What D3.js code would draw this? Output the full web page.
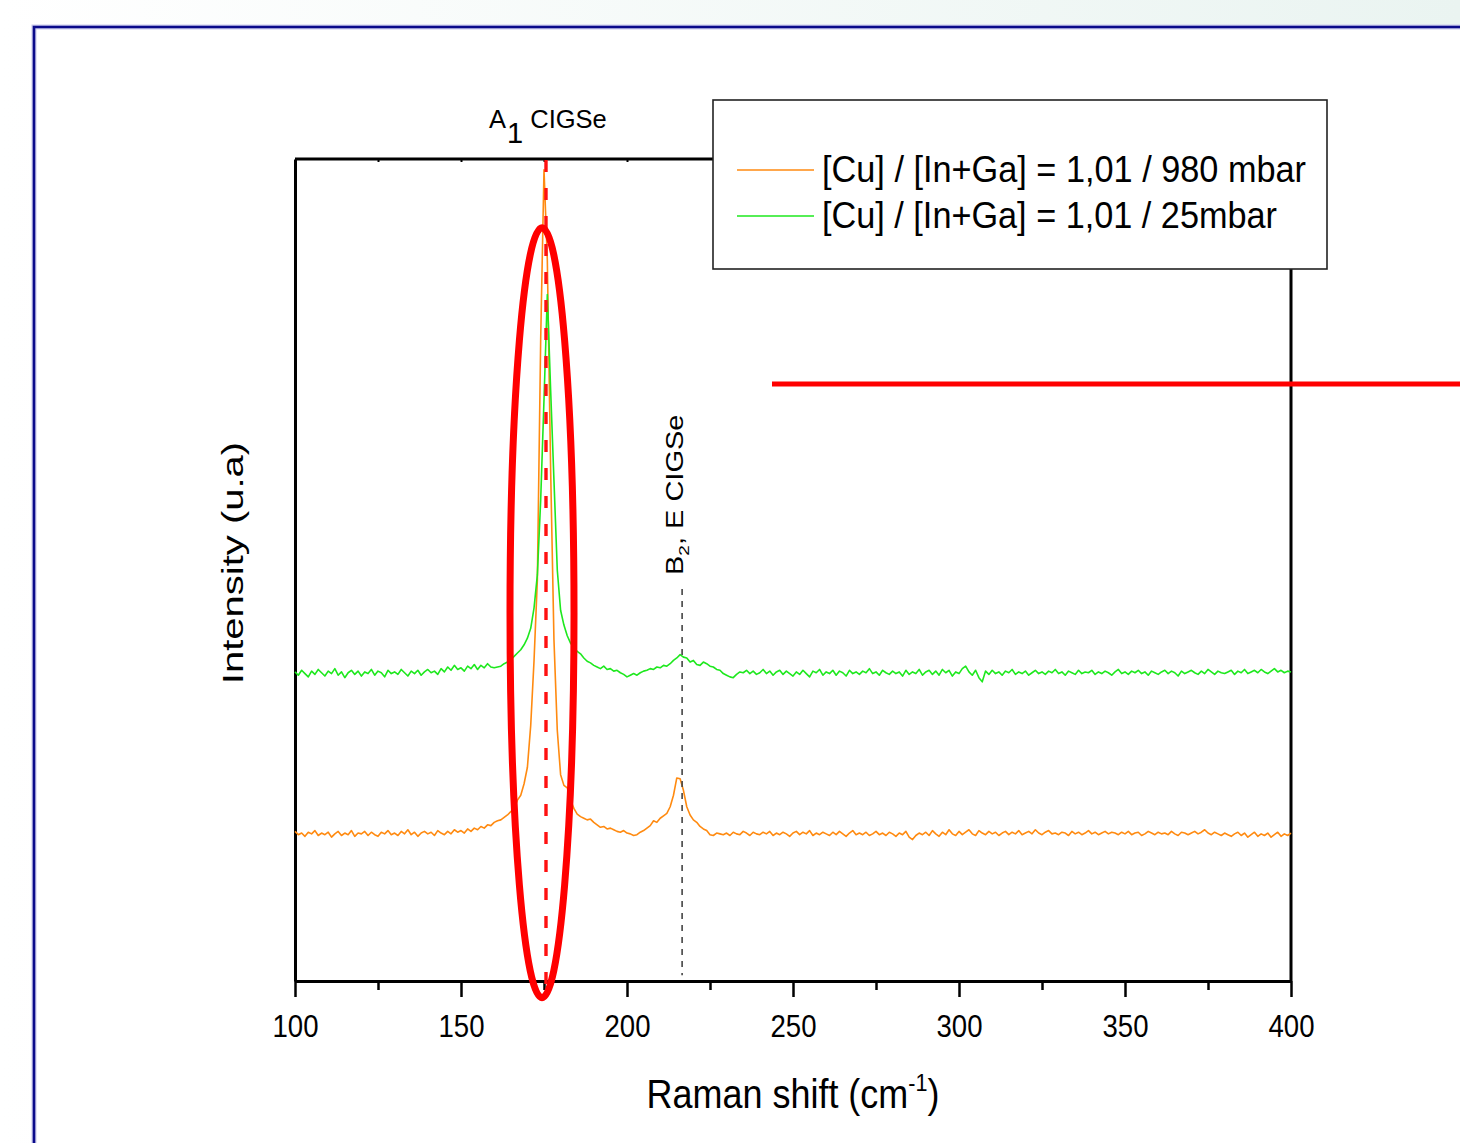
<!DOCTYPE html>
<html>
<head>
<meta charset="utf-8">
<script src="https://cdn.jsdelivr.net/npm/d3@7"></script>
<style>
  html, body { margin: 0; padding: 0; background: #fff; }
  svg { display: block; font-family: Arial, "Liberation Sans", sans-serif; }
</style>
</head>
<body>
<svg id="svg" width="1460" height="1143"></svg>
<script>
// Raman spectra, one value per cm-1 from 100 to 400
const ramanStart = 100
const ramanStep = 1

const orange980 = [
  182, 178, 180, 176, 181, 179, 183, 177, 180, 178,
  181, 175, 179, 182, 177, 180, 178, 183, 176, 180,
  179, 182, 177, 181, 178, 176, 181, 179, 183, 178,
  180, 177, 182, 179, 184, 178, 181, 176, 180, 182,
  179, 181, 177, 183, 180, 178, 182, 179, 184, 181,
  183, 180, 185, 182, 186, 184, 188, 186, 190, 189,
  193, 195, 196, 199, 202, 206, 210, 220, 226, 240,
  260, 311, 390, 488, 780, 987, 877, 622, 415, 305,
  251, 238, 235, 220, 210, 203, 200, 198, 196, 197,
  193, 190, 187, 188, 185, 186, 184, 182, 181, 183,
  180, 179, 177, 178, 181, 183, 186, 189, 195, 193,
  198, 201, 204, 212, 226, 247, 246, 232, 212, 202,
  196, 193, 188, 185, 183, 178, 177, 180, 179, 178,
  180, 177, 181, 179, 178, 182, 180, 177, 181, 179,
  178, 181, 179, 182, 177, 180, 178, 181, 179, 176,
  180, 182, 178, 181, 179, 183, 177, 180, 178, 181,
  179, 177, 181, 178, 182, 179, 176, 180, 183, 178,
  180, 178, 181, 177, 179, 182, 178, 180, 177, 181,
  179, 176, 180, 178, 182, 175, 172, 177, 180, 178,
  181, 177, 183, 179, 176, 181, 178, 184, 179, 177,
  182, 178, 181, 184, 179, 177, 183, 180, 178, 182,
  179, 181, 177, 180, 182, 178, 181, 179, 183, 178,
  180, 182, 179, 184, 180, 178, 181, 183, 179, 180,
  178, 181, 180, 177, 182, 179, 181, 178, 180, 183,
  179, 181, 178, 180, 182, 179, 181, 180, 178, 181,
  179, 182, 178, 180, 181, 177, 179, 182, 180, 178,
  181, 179, 180, 178, 182, 179, 177, 181, 180, 178,
  180, 182, 179, 181, 184, 180, 178, 181, 179, 177,
  180, 178, 176, 179, 181, 177, 180, 175, 178, 181,
  176, 179, 177, 180, 175, 178, 181, 176, 179, 177,
  180
]

const green25 = [
  376, 372, 378, 374, 370, 377, 373, 379, 375, 371,
  377, 374, 380, 372, 376, 369, 375, 378, 373, 377,
  371, 376, 374, 379, 372, 377, 375, 370, 378, 374,
  376, 373, 379, 375, 371, 377, 374, 378, 372, 376,
  379, 375, 377, 373, 380, 376, 382, 378, 384, 379,
  381, 377, 383, 380, 385, 379, 384, 381, 386, 382,
  381, 382, 383, 386, 388, 391, 395, 399, 403, 409,
  417, 429, 454, 494, 585, 707, 835, 719, 609, 500,
  451, 433, 420, 411, 406, 401, 398, 393, 389, 387,
  384, 382, 380, 383, 379, 380, 377, 378, 375, 373,
  370, 372, 374, 372, 375, 377, 378, 380, 379, 382,
  381, 384, 383, 386, 390, 393, 397, 394, 393, 388,
  390, 385, 384, 388, 386, 383, 382, 379, 378, 374,
  372, 370, 369, 373, 376, 375, 378, 374, 377, 373,
  375, 379, 374, 377, 372, 376, 378, 373, 377, 374,
  371, 376, 373, 378, 374, 370, 377, 375, 379, 372,
  376, 374, 378, 372, 377, 375, 371, 378, 374, 376,
  373, 377, 375, 380, 374, 376, 372, 378, 375, 373,
  377, 374, 376, 371, 378, 373, 376, 374, 379, 372,
  376, 378, 373, 377, 372, 379, 375, 378, 371, 376,
  374, 380, 383, 376, 372, 378, 369, 364, 377, 373,
  378, 374, 376, 372, 377, 375, 379, 373, 376, 374,
  377, 372, 375, 378, 374, 376, 373, 377, 375, 379,
  374, 376, 372, 377, 375, 373, 378, 374, 376, 375,
  378, 373, 376, 374, 377, 375, 372, 376, 379, 374,
  376, 373, 377, 375, 378, 374, 376, 372, 377, 375,
  373, 376, 378, 374, 377, 375, 371, 377, 374, 376,
  378, 375, 373, 377, 374, 379, 376, 373, 377, 375,
  374, 376, 378, 373, 377, 375, 379, 374, 376, 378,
  375, 379, 376, 374, 377, 380, 376, 378, 375, 377,
  376
]

const majorTicks = [100, 150, 200, 250, 300, 350, 400]
const minorTicks = [125, 175, 225, 275, 325, 375]
const legendLabels = ['[Cu] / [In+Ga] = 1,01 / 980 mbar', '[Cu] / [In+Ga] = 1,01 / 25mbar']
const seriesColors = ['#ff8a10', '#1ee81e']

// peak positions marked on the chart (cm-1)
const a1Peak = 175.6
const b2Peak = 216.6

const width = 1460
const height = 1143
const plot = { left: 295, right: 1291, top: 159, bottom: 981 }

const svg = d3.select('#svg')

// slide background
const defs = svg.append('defs')
const grad = defs.append('linearGradient').attr('id', 'bg')
grad.append('stop').attr('offset', '0%').attr('stop-color', '#ffffff')
grad.append('stop').attr('offset', '100%').attr('stop-color', '#eaf4f1')
svg.append('rect').attr('width', width).attr('height', height).attr('fill', 'url(#bg)')
svg.append('rect').attr('x', 34).attr('y', 27).attr('width', width).attr('height', height).attr('fill', '#fff')
svg.append('path')
  .attr('d', `M34,${height} V27 H${width}`)
  .attr('fill', 'none')
  .attr('stroke', '#c9c9ec')
  .attr('stroke-width', 5)
svg.append('path')
  .attr('d', `M34,${height} V27 H${width}`)
  .attr('fill', 'none')
  .attr('stroke', '#0a0a8a')
  .attr('stroke-width', 2.6)

const x = d3.scaleLinear().domain([100, 400]).range([plot.left, plot.right])
const y = d3.scaleLinear().domain([0, 1000]).range([plot.bottom, plot.top])

const xs = (i) => ramanStart + i * ramanStep

const line = d3.line()
  .x((d, i) => x(xs(i)))
  .y(d => y(d))

// frame
const frame = svg.append('g').attr('stroke', '#000').attr('stroke-width', 3).attr('fill', 'none')
frame.append('path').attr('d', `M${plot.left},${plot.top} H${plot.right} V${plot.bottom}`)

svg.append('g')
  .attr('transform', `translate(0, ${plot.top})`)
  .call(d3.axisTop(x).tickValues([125, 150, 175, 200]).tickSize(-3).tickFormat(''))
  .call(g => g.select('.domain').remove())
  .selectAll('line').attr('stroke-width', 2)

svg.append('g')
  .attr('transform', `translate(${plot.left}, 0)`)
  .call(d3.axisLeft(y).tickValues([]).tickSizeOuter(0))
  .select('.domain').attr('stroke-width', 3)

svg.append('g')
  .attr('transform', `translate(0, ${plot.bottom})`)
  .call(d3.axisBottom(x).tickValues(minorTicks).tickSize(9).tickSizeOuter(0).tickFormat(''))
  .call(g => g.select('.domain').remove())
  .selectAll('line').attr('stroke-width', 2.5)

const xAxis = svg.append('g')
  .attr('transform', `translate(0, ${plot.bottom})`)
  .call(d3.axisBottom(x).tickValues(majorTicks).tickSize(16).tickSizeOuter(0))
xAxis.select('.domain').attr('stroke-width', 3)
xAxis.selectAll('line').attr('stroke-width', 2.5)
xAxis.selectAll('text')
  .attr('y', 56)
  .attr('dy', 0)
  .attr('fill', '#000')
  .attr('font-size', 32)
  .attr('font-family', 'Arial, "Liberation Sans", sans-serif')
  .attr('textLength', 46)
  .attr('lengthAdjust', 'spacingAndGlyphs')

// spectra
const series = [orange980, green25]
svg.append('g')
  .selectAll('path')
  .data(series)
  .join('path')
  .attr('d', d => line(d))
  .attr('fill', 'none')
  .attr('stroke', (d, i) => seriesColors[i])
  .attr('stroke-width', 1.6)
  .attr('stroke-linejoin', 'round')

// peak guides
svg.append('line')
  .attr('x1', x(b2Peak)).attr('x2', x(b2Peak))
  .attr('y1', y(477)).attr('y2', y(7))
  .attr('stroke', '#444').attr('stroke-width', 1.6)
  .attr('stroke-dasharray', '6,6')

svg.append('line')
  .attr('x1', x(a1Peak)).attr('x2', x(a1Peak))
  .attr('y1', plot.top + 1).attr('y2', y(-11))
  .attr('stroke', '#ff1010').attr('stroke-width', 3.4)
  .attr('stroke-dasharray', '12,16')

svg.append('ellipse')
  .attr('cx', x(174.4))
  .attr('cy', y(448))
  .attr('rx', 32)
  .attr('ry', 385)
  .attr('fill', 'none')
  .attr('stroke', '#ff0000')
  .attr('stroke-width', 7)

// annotations
const a1 = svg.append('text')
  .attr('x', 489).attr('y', 128)
  .attr('font-size', 25.5)
a1.append('tspan').text('A')
a1.append('tspan').attr('font-size', 29).attr('dx', 1).attr('dy', 15).text('1')
a1.append('tspan').attr('dy', -15).text(' CIGSe')

const b2 = svg.append('text')
  .attr('transform', `translate(${x(b2Peak) + 1}, 575) scale(0.8, 1) rotate(-90)`)
  .attr('font-size', 29)
b2.append('tspan').text('B')
b2.append('tspan').attr('font-size', 19).attr('dy', 7).text('2')
b2.append('tspan').attr('dy', -7).text(', E CIGSe')

svg.append('text')
  .attr('transform', 'translate(243, 563) scale(0.75, 1) rotate(-90)')
  .attr('text-anchor', 'middle')
  .attr('font-size', 40)
  .text('Intensity (u.a)')

const xTitle = svg.append('text')
  .attr('text-anchor', 'middle')
  .attr('font-size', 40)
xTitle.append('tspan').text('Raman shift (cm')
xTitle.append('tspan').attr('font-size', 24).attr('dy', -17).text('-1')
xTitle.append('tspan').attr('dy', 17).text(')')
const xtw = xTitle.node().getBBox().width
xTitle.attr('transform', `translate(793, 1108) scale(${293 / xtw}, 1)`)

// decoration line from the slide
svg.append('line')
  .attr('x1', 772).attr('x2', width)
  .attr('y1', 384).attr('y2', 384)
  .attr('stroke', '#ff0000').attr('stroke-width', 5)

// legend
const legend = svg.append('g').attr('transform', 'translate(713, 100)')
legend.append('rect')
  .attr('width', 614).attr('height', 169)
  .attr('fill', '#fff').attr('stroke', '#222').attr('stroke-width', 1.6)
const items = legend.selectAll('g.item')
  .data(legendLabels)
  .join('g')
  .attr('class', 'item')
  .attr('transform', (d, i) => `translate(0, ${70 + i * 46})`)
items.append('line')
  .attr('x1', 24).attr('x2', 101)
  .attr('stroke', (d, i) => seriesColors[i]).attr('stroke-width', 1.6)
items.append('text')
  .attr('x', 109).attr('y', 12)
  .attr('font-size', 37)
  .attr('textLength', (d, i) => [484, 455][i])
  .attr('lengthAdjust', 'spacingAndGlyphs')
  .text(d => d)
</script>
</body>
</html>
